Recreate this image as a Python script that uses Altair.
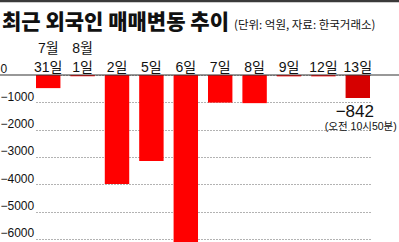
import altair as alt
import pandas as pd

days = ["31일", "1일", "2일", "5일", "6일", "7일", "8일", "9일", "12일", "13일"]
months = ["7월", "8월", "", "", "", "", "", "", "", ""]
values = [-480, -50, -3990, -3150, -6200, -1010, -1030, -50, -50, -842]
highlight = [False, False, False, False, False, False, False, False, False, True]
y_ticks = [0, -1000, -2000, -3000, -4000, -5000, -6000]

title_text = "최근 외국인 매매변동 추이"
subtitle_text = "(단위: 억원, 자료: 한국거래소)"
note_value = "−842"
note_time = "(오전 10시50분)"

df = pd.DataFrame({"day": days, "month": months, "value": values, "hl": highlight})

NARROW = "Liberation Sans Narrow, Liberation Sans, Noto Sans CJK KR, sans-serif"
KR = "Liberation Sans, Noto Sans CJK KR, sans-serif"

xs = alt.Scale(domain=days, range=[36, 370], paddingInner=0.29, paddingOuter=0)
ys = alt.Scale(domain=[-6110, 2744], nice=False, zero=False)

base = alt.Chart(df)

bars = base.mark_bar(clip=True).encode(
    x=alt.X("day:N", scale=xs, sort=days, axis=None),
    y=alt.Y("value:Q", scale=ys,
            axis=alt.Axis(values=y_ticks, format="d", orient="left", domain=False,
                          ticks=False, labelAlign="left", labelBaseline="alphabetic",
                          labelOffset=-2, labelPadding=0, labelFont=NARROW,
                          labelFontSize=12, labelColor="#111", grid=True,
                          gridColor="#666", gridDash=[1, 2], gridWidth=1, title=None)),
    y2=alt.datum(0),
    color=alt.Color("hl:N", scale=alt.Scale(domain=[False, True], range=["#ff0000", "#d60000"]),
                    legend=None),
)

zero = alt.Chart(pd.DataFrame({"v": [0]})).mark_rule(color="#333", strokeWidth=1.2).encode(
    y=alt.Y("v:Q", scale=ys)
)

top = alt.Chart(pd.DataFrame({"v": [0]})).mark_rule(color="#3a3a3a", strokeWidth=2.5).encode(
    x=alt.value(0), x2=alt.value(399), y=alt.value(1)
)

day_labels = base.mark_text(font=KR, fontSize=14, baseline="alphabetic", color="#111").encode(
    x=alt.X("day:N", scale=xs, sort=days), y=alt.value(72), text="day:N"
)
month_labels = base.mark_text(font=KR, fontSize=14, baseline="alphabetic", color="#111").encode(
    x=alt.X("day:N", scale=xs, sort=days), y=alt.value(53), text="month:N"
)

title = alt.Chart(pd.DataFrame({"t": [title_text]})).mark_text(
    font="Noto Sans CJK KR", fontWeight=900, fontSize=21, align="left",
    baseline="alphabetic", color="#111"
).encode(x=alt.value(2), y=alt.value(29), text="t:N")

subtitle = alt.Chart(pd.DataFrame({"t": [subtitle_text]})).mark_text(
    font="Noto Sans CJK KR", fontSize=11.5, align="left", baseline="alphabetic", color="#111"
).encode(x=alt.value(234), y=alt.value(29), text="t:N")

note_df = pd.DataFrame({"day": ["13일"], "value": [-842], "a": [note_value], "b": [note_time]})
note1 = alt.Chart(note_df).mark_text(
    font=NARROW, fontSize=17, baseline="alphabetic", dy=19, dx=-3, color="#111"
).encode(x=alt.X("day:N", scale=xs, sort=days), y=alt.Y("value:Q", scale=ys), text="a:N")
note2 = alt.Chart(note_df).mark_text(
    font=KR, fontSize=10.5, align="right", baseline="alphabetic", dy=32, dx=39, color="#111"
).encode(x=alt.X("day:N", scale=xs, sort=days), y=alt.Y("value:Q", scale=ys), text="b:N")

chart = alt.layer(bars, zero, top, day_labels, month_labels, title, subtitle, note1, note2).properties(
    width=399, height=242, autosize=alt.AutoSizeParams(type="none"), padding=0,
    background="white"
).configure_view(stroke=None)

chart.save("out.html", embed_options={"renderer": "svg", "actions": False})
